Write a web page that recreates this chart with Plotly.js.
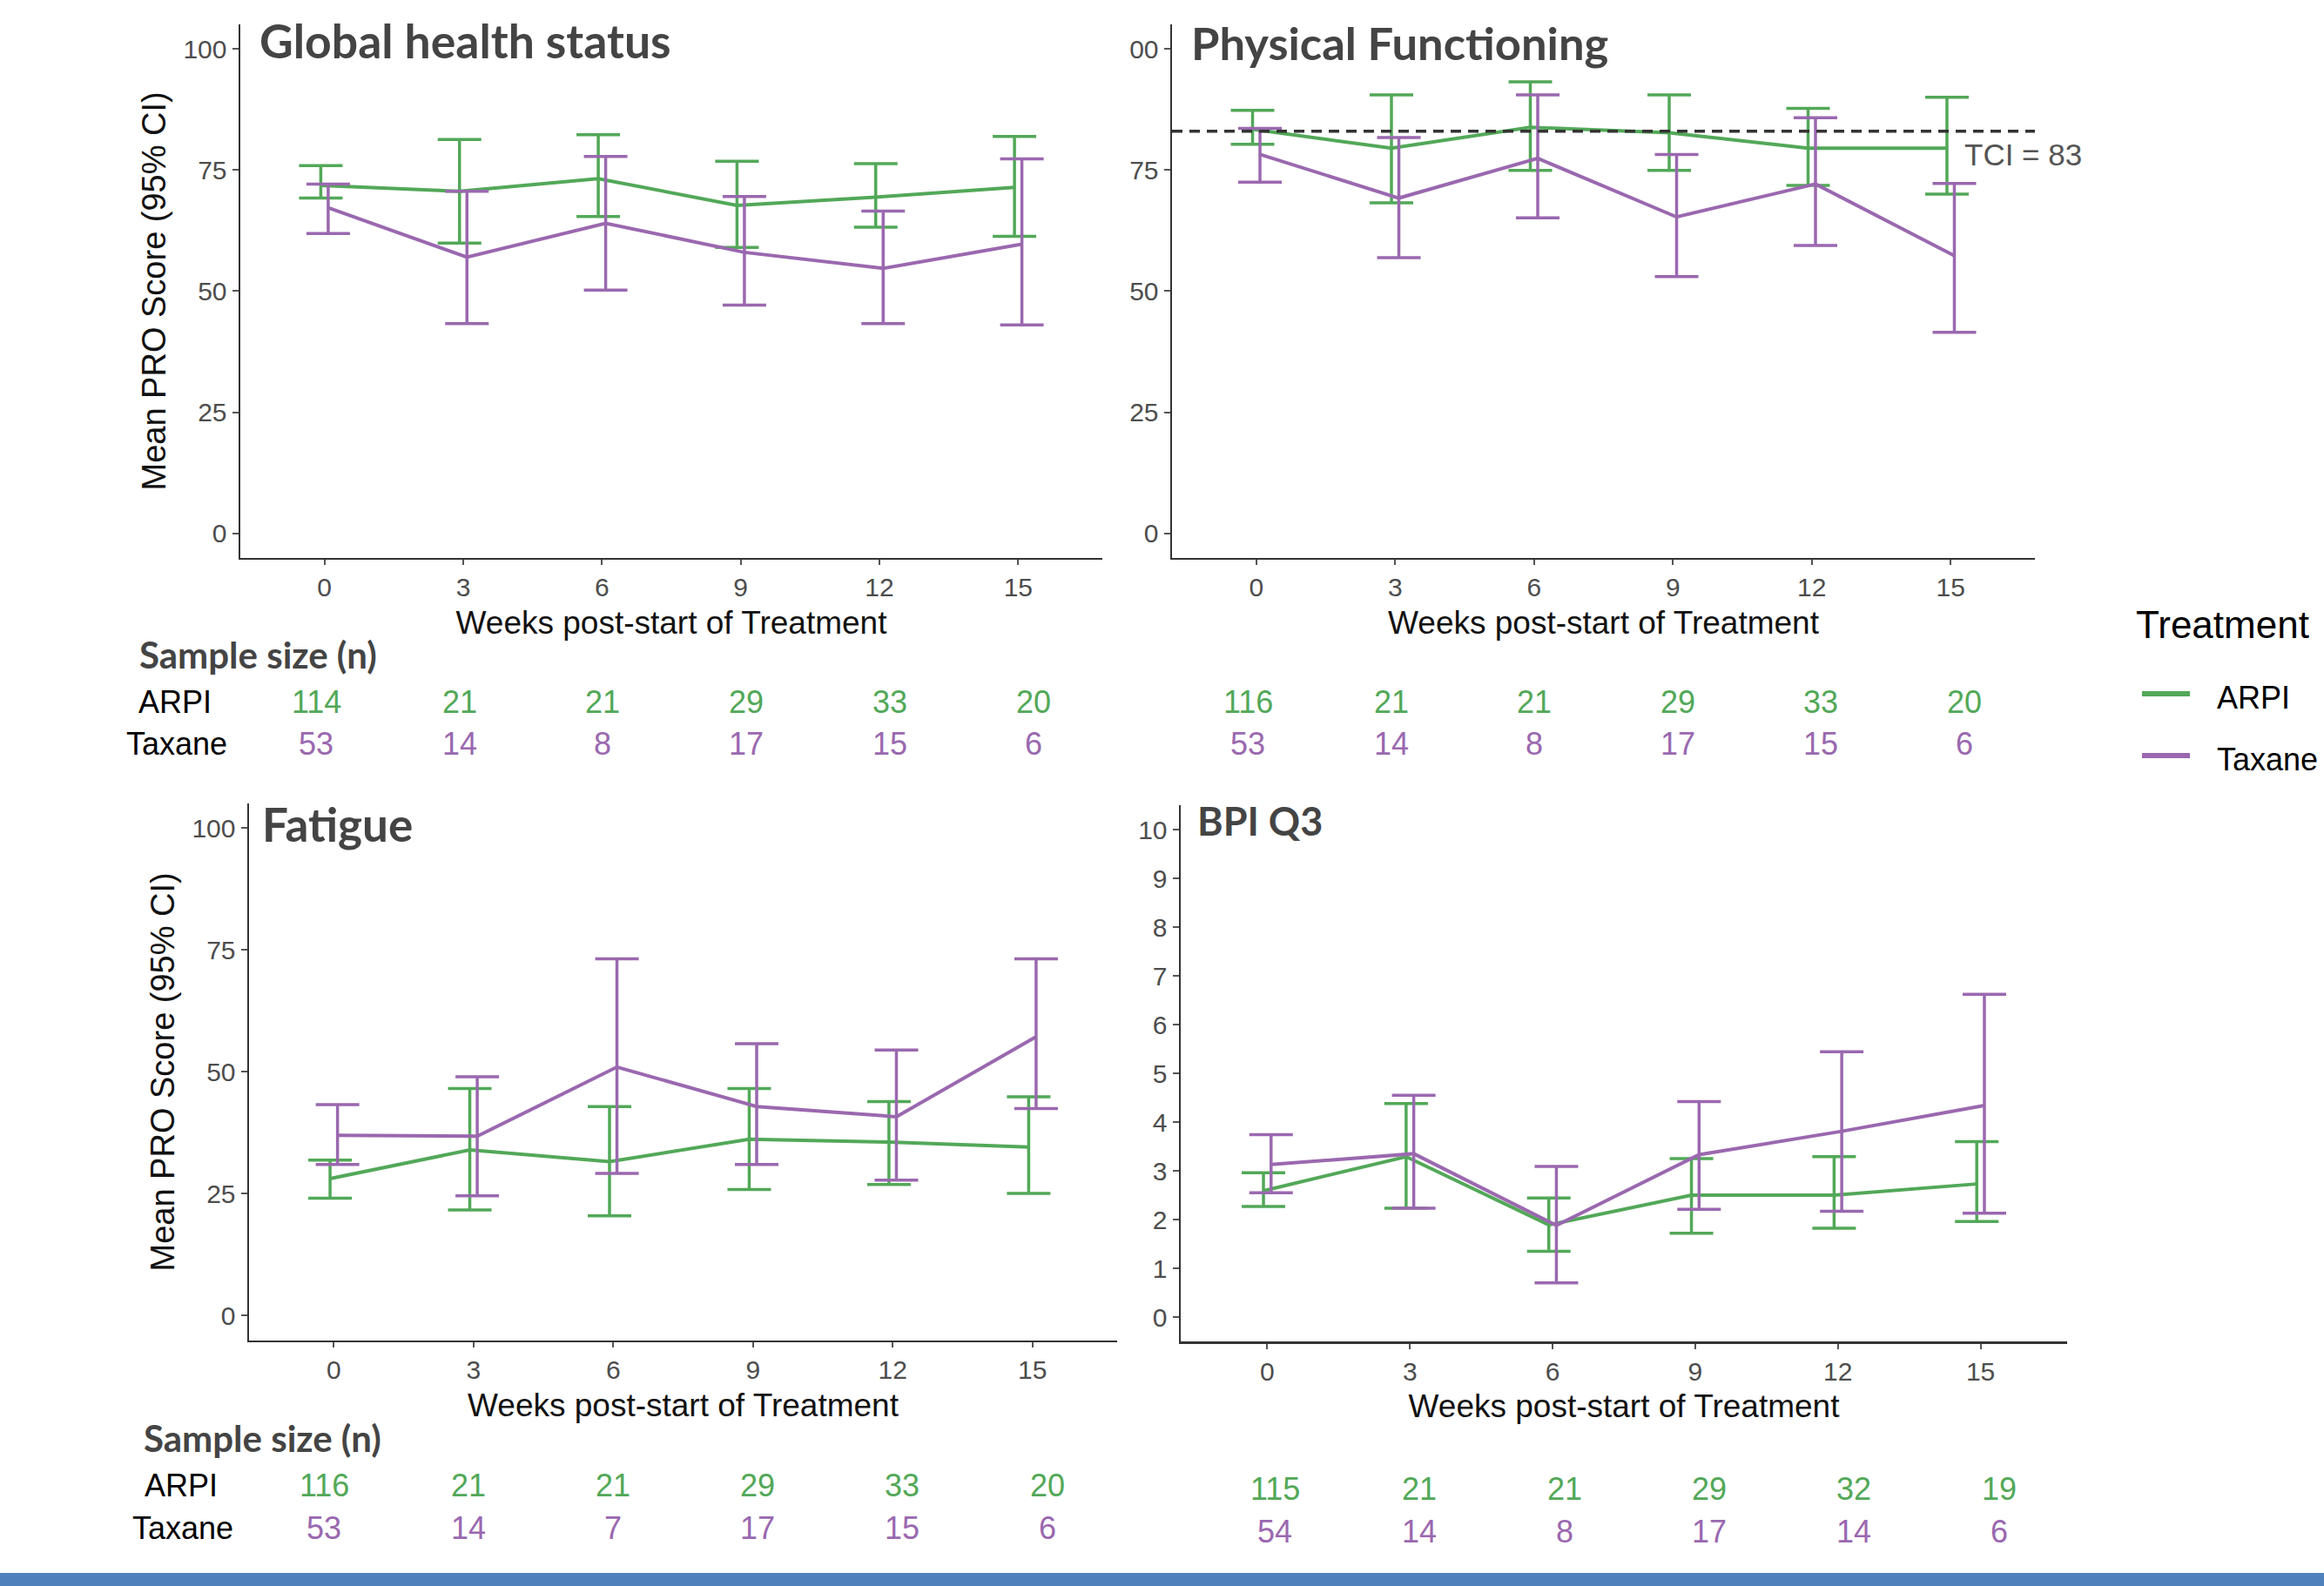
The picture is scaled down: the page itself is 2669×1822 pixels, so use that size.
<!DOCTYPE html>
<html>
<head>
<meta charset="utf-8">
<script src="https://cdn.plot.ly/plotly-3.0.1.min.js"></script>
<style>
  html, body { margin: 0; padding: 0; background: #ffffff; }
  #chart { width: 2669px; height: 1822px; }
</style>
</head>
<body>
<div id="chart"></div>
<script>
// ---------------- DATA ----------------
const weeks = [0, 3, 6, 9, 12, 15];
const weekLabels = ["0", "3", "6", "9", "12", "15"];
const seriesNames = ["ARPI", "Taxane"];

// Global health status
const ghsArpiMean = [71.8, 70.6, 73.2, 67.7, 69.4, 71.4];
const ghsArpiLow  = [69.2, 59.9, 65.4, 59.0, 63.2, 61.3];
const ghsArpiHigh = [75.9, 81.3, 82.3, 76.8, 76.3, 81.9];
const ghsTaxMean  = [67.2, 57.0, 64.0, 58.0, 54.7, 59.7];
const ghsTaxLow   = [61.9, 43.3, 50.2, 47.1, 43.3, 43.0];
const ghsTaxHigh  = [72.1, 70.6, 77.8, 69.5, 66.5, 77.3];

// Physical Functioning
const pfArpiMean = [83.4, 79.5, 83.8, 82.7, 79.5, 79.5];
const pfArpiLow  = [80.3, 68.2, 74.9, 74.9, 71.8, 70.0];
const pfArpiHigh = [87.3, 90.5, 93.2, 90.5, 87.7, 90.0];
const pfTaxMean  = [78.2, 69.2, 77.4, 65.3, 72.1, 57.3];
const pfTaxLow   = [72.5, 56.9, 65.1, 53.0, 59.4, 41.5];
const pfTaxHigh  = [83.6, 81.7, 90.5, 78.2, 85.8, 72.2];
const tciValue = 83;
const tciLabel = "TCI = 83";

// Fatigue
const fatArpiMean = [28.1, 34.0, 31.6, 36.2, 35.6, 34.6];
const fatArpiLow  = [24.1, 21.7, 20.5, 25.9, 26.9, 25.1];
const fatArpiHigh = [31.9, 46.6, 42.9, 46.6, 43.9, 44.9];
const fatTaxMean  = [37.0, 36.8, 51.0, 42.9, 40.8, 57.2];
const fatTaxLow   = [31.0, 24.6, 29.2, 31.0, 27.8, 42.5];
const fatTaxHigh  = [43.3, 49.0, 73.2, 55.8, 54.5, 73.2];

// BPI Q3
const bpiArpiMean = [2.59, 3.29, 1.89, 2.50, 2.50, 2.73];
const bpiArpiLow  = [2.27, 2.23, 1.35, 1.72, 1.82, 1.96];
const bpiArpiHigh = [2.96, 4.38, 2.44, 3.25, 3.29, 3.60];
const bpiTaxMean  = [3.13, 3.35, 1.88, 3.33, 3.81, 4.34];
const bpiTaxLow   = [2.55, 2.23, 0.70, 2.21, 2.17, 2.13];
const bpiTaxHigh  = [3.74, 4.55, 3.09, 4.42, 5.44, 6.62];

// Sample sizes
const ghsArpiN = [114, 21, 21, 29, 33, 20];
const ghsTaxN  = [53, 14, 8, 17, 15, 6];
const pfArpiN  = [116, 21, 21, 29, 33, 20];
const pfTaxN   = [53, 14, 8, 17, 15, 6];
const fatArpiN = [116, 21, 21, 29, 33, 20];
const fatTaxN  = [53, 14, 7, 17, 15, 6];
const bpiArpiN = [115, 21, 21, 29, 32, 19];
const bpiTaxN  = [54, 14, 8, 17, 14, 6];

const panelTitles = ["Global health status", "Physical Functioning", "Fatigue", "BPI Q3"];
const xTitle = "Weeks post-start of Treatment";
const yTitle = "Mean PRO Score (95% CI)";
const legendTitle = "Treatment";
const sampleTitle = "Sample size (n)";

// ---------------- STYLE ----------------
const W = 2669, H = 1822;
const GREEN = "#52A858", PURPLE = "#9A68AF";
const colors = [GREEN, PURPLE];
const dodge = [-0.08, 0.08];
const SANS = "Liberation Sans, Arial, sans-serif";
const TITLEFONT = "Lato, Carlito, Calibri, sans-serif";
const px = x => x / W;
const py = y => 1 - y / H;

const traces = [];
function addPanel(idx, means, lows, highs) {
  const ax = idx === 0 ? "" : String(idx + 1);
  for (let s = 0; s < 2; s++) {
    const m = means[s], lo = lows[s], hi = highs[s];
    traces.push({
      type: "scatter",
      mode: "lines",
      name: seriesNames[s],
      legendgroup: seriesNames[s],
      showlegend: false,
      x: weeks.map(w => w + dodge[s]),
      y: m,
      xaxis: "x" + ax,
      yaxis: "y" + ax,
      line: { color: colors[s], width: 4 },
      error_y: {
        type: "data",
        symmetric: false,
        array: hi.map((h, i) => h - m[i]),
        arrayminus: lo.map((l, i) => m[i] - l),
        color: colors[s],
        thickness: 3.5,
        width: 25
      },
      hoverinfo: "x+y+name"
    });
  }
}
addPanel(0, [ghsArpiMean, ghsTaxMean], [ghsArpiLow, ghsTaxLow], [ghsArpiHigh, ghsTaxHigh]);
addPanel(1, [pfArpiMean, pfTaxMean], [pfArpiLow, pfTaxLow], [pfArpiHigh, pfTaxHigh]);
addPanel(2, [fatArpiMean, fatTaxMean], [fatArpiLow, fatTaxLow], [fatArpiHigh, fatTaxHigh]);
addPanel(3, [bpiArpiMean, bpiTaxMean], [bpiArpiLow, bpiTaxLow], [bpiArpiHigh, bpiTaxHigh]);

function xAxis(domain, anchor) {
  return {
    domain: domain, anchor: anchor,
    range: [-1.82, 16.82],
    tickmode: "array", tickvals: weeks, ticktext: weekLabels,
    showline: true, linecolor: "#333333", linewidth: 2.5, mirror: false,
    ticks: "outside", ticklen: 6, tickwidth: 2, tickcolor: "#555555",
    tickfont: { family: SANS, size: 30, color: "#4d4d4d" },
    showgrid: false, zeroline: false,
    title: { text: xTitle, font: { family: SANS, size: 37, color: "#111111" }, standoff: 12 },
    automargin: false
  };
}
function yAxis(domain, anchor, range, tv, tt, titled) {
  return {
    domain: domain, anchor: anchor,
    range: range,
    tickmode: "array", tickvals: tv, ticktext: tt,
    showline: true, linecolor: "#333333", linewidth: 2.5,
    ticks: "outside", ticklen: 7, tickwidth: 2, tickcolor: "#555555",
    tickfont: { family: SANS, size: 30, color: "#4d4d4d" },
    showgrid: false, zeroline: false,
    title: titled ? { text: yTitle, font: { family: SANS, size: 38, color: "#111111" }, standoff: 8 } : { text: "" },
    automargin: false
  };
}
const pctTicks = [0, 25, 50, 75, 100];
const bpiTicks = [0, 1, 2, 3, 4, 5, 6, 7, 8, 9, 10];

const topDomainY = [py(640.5), py(28.3)];
const botDomainY3 = [py(1539.5), py(923.3)];
const botDomainY4 = [py(1541), py(925)];

const layout = {
  width: W, height: H,
  margin: { l: 0, r: 0, t: 0, b: 0 },
  paper_bgcolor: "#ffffff",
  plot_bgcolor: "rgba(0,0,0,0)",
  font: { family: SANS, color: "#000" },
  showlegend: false,
  xaxis:  xAxis([px(276), px(1266)], "y"),
  yaxis:  yAxis(topDomainY, "x", [-5, 105], pctTicks, pctTicks.map(String), true),
  xaxis2: xAxis([px(1346), px(2337)], "y2"),
  yaxis2: yAxis(topDomainY, "x2", [-5, 105], pctTicks, ["0", "25", "50", "75", "00"], false),
  xaxis3: xAxis([px(286), px(1283)], "y3"),
  yaxis3: yAxis(botDomainY3, "x3", [-5, 105], pctTicks, pctTicks.map(String), true),
  xaxis4: xAxis([px(1356), px(2374)], "y4"),
  yaxis4: yAxis(botDomainY4, "x4", [-0.5, 10.5], bpiTicks, bpiTicks.map(String), false),
  shapes: [
    { type: "line", xref: "x2 domain", yref: "y2", x0: 0, x1: 1, y0: tciValue, y1: tciValue,
      line: { color: "#333333", width: 3.5, dash: "12px,8px" }, layer: "above" },
    { type: "rect", xref: "paper", yref: "paper", x0: 0, x1: 1, y0: 0, y1: py(1807),
      fillcolor: "#4F81BD", line: { width: 0 } }
  ],
  annotations: []
};

// legend (drawn as key lines + labels)
const legendRows = [797, 868];
seriesNames.forEach((nm, s) => {
  layout.shapes.push({ type: "line", xref: "paper", yref: "paper",
    x0: px(2460), x1: px(2515), y0: py(legendRows[s]), y1: py(legendRows[s]),
    line: { color: colors[s], width: 6 } });
});

const ann = layout.annotations;
ann.push({ text: legendTitle, xref: "paper", yref: "paper", x: px(2451), y: py(718),
  xanchor: "left", yanchor: "middle", showarrow: false, font: { family: SANS, size: 44, color: "#000" } });
seriesNames.forEach((nm, s) => {
  ann.push({ text: nm, xref: "paper", yref: "paper", x: px(2544), y: py(legendRows[s] + 4),
    xanchor: "left", yanchor: "middle", showarrow: false, font: { family: SANS, size: 36, color: "#000" } });
});

// panel titles
const titlePos = [[296, 46, 53.5], [1366, 49, 52.5], [299, 946, 53], [1373, 943, 45]];
panelTitles.forEach((t, i) => {
  ann.push({ text: "<b>" + t + "</b>", xref: "paper", yref: "paper",
    x: px(titlePos[i][0]), y: py(titlePos[i][1]), xanchor: "left", yanchor: "middle",
    showarrow: false, font: { family: TITLEFONT, size: titlePos[i][2], color: "#444444" } });
});
// TCI label
ann.push({ text: tciLabel, xref: "x2", yref: "y2", x: 15.25, y: 78.2, xanchor: "left", yanchor: "middle",
  showarrow: false, font: { family: SANS, size: 35, color: "#555555" } });

// sample size tables
function addTable(opts) {
  if (opts.header) {
    ann.push({ text: "<b>" + sampleTitle + "</b>", xref: "paper", yref: "paper",
      x: px(opts.headerX), y: py(opts.headerY), xanchor: "left", yanchor: "middle",
      showarrow: false, font: { family: TITLEFONT, size: 42, color: "#444444" } });
    ann.push({ text: seriesNames[0], xref: "paper", yref: "paper", x: px(opts.labelX), y: py(opts.row1),
      xanchor: "center", yanchor: "middle", showarrow: false, font: { family: SANS, size: 36, color: "#000" } });
    ann.push({ text: seriesNames[1], xref: "paper", yref: "paper", x: px(opts.labelX + 2), y: py(opts.row2),
      xanchor: "center", yanchor: "middle", showarrow: false, font: { family: SANS, size: 36, color: "#000" } });
  }
  opts.nA.forEach((n, i) => {
    ann.push({ text: String(n), xref: "paper", yref: "paper", x: px(opts.start + i * opts.step), y: py(opts.row1),
      xanchor: "center", yanchor: "middle", showarrow: false, font: { family: SANS, size: 36, color: GREEN } });
  });
  opts.nT.forEach((n, i) => {
    ann.push({ text: String(n), xref: "paper", yref: "paper", x: px(opts.start + i * opts.step), y: py(opts.row2),
      xanchor: "center", yanchor: "middle", showarrow: false, font: { family: SANS, size: 36, color: PURPLE } });
  });
}
addTable({ header: true, headerX: 158, headerY: 752, labelX: 201, row1: 806, row2: 855,
  start: 363, step: 164.7, nA: ghsArpiN, nT: ghsTaxN });
addTable({ header: false, row1: 806, row2: 855, start: 1433, step: 164.6, nA: pfArpiN, nT: pfTaxN });
addTable({ header: true, headerX: 163, headerY: 1652, labelX: 208, row1: 1706, row2: 1755,
  start: 372, step: 166.1, nA: fatArpiN, nT: fatTaxN });
addTable({ header: false, row1: 1710, row2: 1759, start: 1464, step: 166.3, nA: bpiArpiN, nT: bpiTaxN });

Plotly.newPlot("chart", traces, layout, { staticPlot: true, displayModeBar: false });
</script>
</body>
</html>
